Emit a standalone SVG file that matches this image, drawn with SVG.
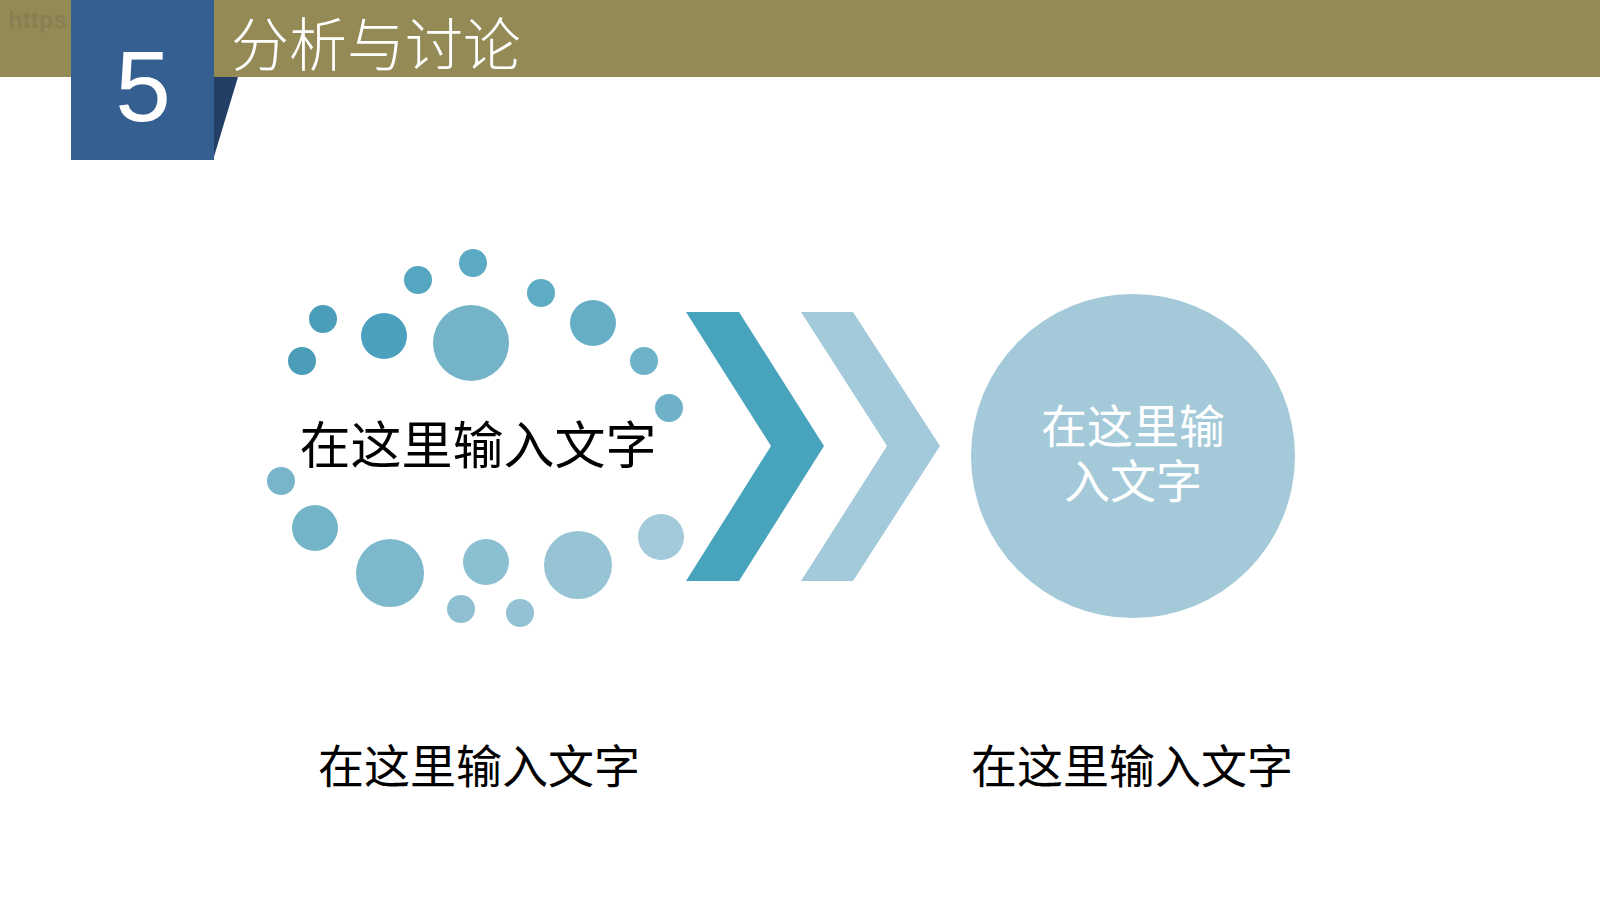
<svg xmlns="http://www.w3.org/2000/svg" width="1600" height="900" viewBox="0 0 1600 900">
  <style>
    .cjk-serif { font-family: "Liberation Serif", "Noto Sans CJK SC", serif; }
    .cjk-sans { font-family: "Noto Sans CJK SC", sans-serif; }
    .dot { stroke: none; }
  </style>
  <rect width="1600" height="900" fill="#ffffff"/>

  <g id="header">
    <rect x="0" y="0" width="1600" height="77" fill="#948A56"/>
    <text x="8" y="28" font-family="Liberation Sans, sans-serif" font-size="24" font-weight="bold" fill="#7d7650" fill-opacity="0.5">https</text>
    <polygon points="213,77 238,77 213,160" fill="#233F66"/>
    <rect x="71" y="0" width="143" height="160" fill="#365F91"/>
    <text x="143" y="121" text-anchor="middle" font-family="Liberation Sans, Arial, sans-serif" font-size="100" fill="#ffffff">5</text>
    <text x="231" y="66" class="cjk-sans" font-size="58" font-weight="300" fill="#ffffff">分析与讨论</text>
  </g>

  <g id="dot-ring">
    <circle class="dot" cx="323" cy="319" r="14" fill="#4A9EBA"/>
    <circle class="dot" cx="302" cy="361" r="14" fill="#4A9CB7"/>
    <circle class="dot" cx="384" cy="336" r="23" fill="#4BA0BB"/>
    <circle class="dot" cx="418" cy="280" r="14" fill="#55A6C0"/>
    <circle class="dot" cx="473" cy="263" r="14" fill="#5BA9C2"/>
    <circle class="dot" cx="471" cy="343" r="38" fill="#74B3C8"/>
    <circle class="dot" cx="541" cy="293" r="14" fill="#5EABC4"/>
    <circle class="dot" cx="593" cy="323" r="23" fill="#65AEC6"/>
    <circle class="dot" cx="644" cy="361" r="14" fill="#6DB2C8"/>
    <circle class="dot" cx="669" cy="408" r="14" fill="#6EB1C9"/>
    <circle class="dot" cx="281" cy="481" r="14" fill="#78B5CB"/>
    <circle class="dot" cx="315" cy="528" r="23" fill="#74B4C9"/>
    <circle class="dot" cx="390" cy="573" r="34" fill="#7DB8CC"/>
    <circle class="dot" cx="486" cy="562" r="23" fill="#8BBFD2"/>
    <circle class="dot" cx="578" cy="565" r="34" fill="#97C4D5"/>
    <circle class="dot" cx="661" cy="537" r="23" fill="#A2CADA"/>
    <circle class="dot" cx="461" cy="609" r="14" fill="#8EC0D2"/>
    <circle class="dot" cx="520" cy="613" r="14" fill="#93C2D4"/>
    <text x="478" y="464" text-anchor="middle" class="cjk-serif" font-size="51" fill="#000000">在这里输入文字</text>
  </g>

  <g id="connectors">
    <polygon id="chevron-1" points="686,312 739,312 824,446 739,581 686,581 771,446" fill="#48A3BC"/>
    <polygon id="chevron-2" points="801,312 853,312 940,446 853,581 801,581 887,446" fill="#A3CADA"/>
  </g>

  <g id="result-circle">
    <circle cx="1133" cy="456" r="162" fill="#A4CAD9"/>
    <text x="1133" y="443" text-anchor="middle" class="cjk-serif" font-size="46" fill="#ffffff">在这里输</text>
    <text x="1133" y="498" text-anchor="middle" class="cjk-serif" font-size="46" fill="#ffffff">入文字</text>
  </g>

  <g id="label-left">
    <text x="479" y="783" text-anchor="middle" class="cjk-serif" font-size="46" fill="#000000">在这里输入文字</text>
  </g>
  <g id="label-right">
    <text x="1132" y="783" text-anchor="middle" class="cjk-serif" font-size="46" fill="#000000">在这里输入文字</text>
  </g>
</svg>
